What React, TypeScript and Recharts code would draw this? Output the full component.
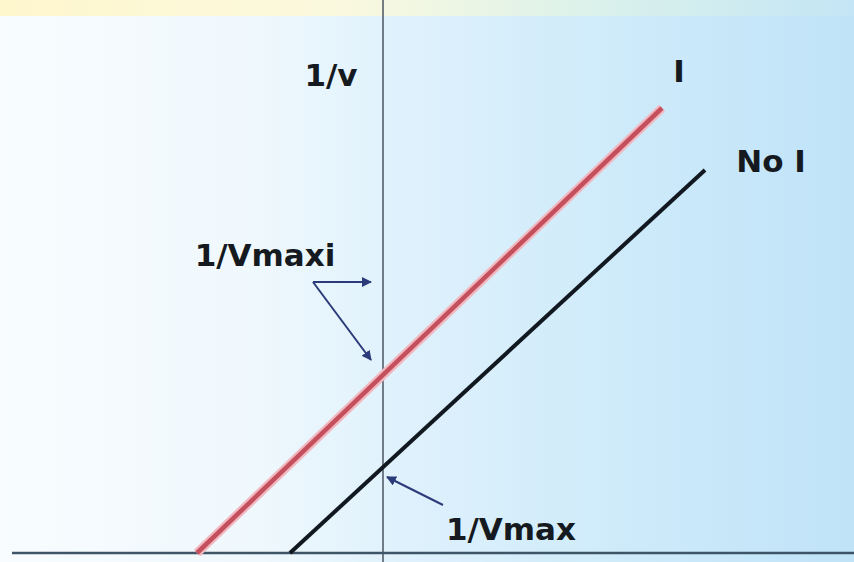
import React from 'react';
import { LineChart, Line, XAxis, YAxis, ReferenceLine, ReferenceDot } from 'recharts';

// x: 1/[S], y: 1/v  (vertical axis at x = 0)
const inhibitedLine = [
  { x: -1.86, y: 0 },
  { x: 2.79, y: 4.45 },
];
const uninhibitedLine = [
  { x: -0.93, y: 0 },
  { x: 3.22, y: 3.83 },
];

// annotation arrows (start -> end)
const arrowToAxis = [
  { x: -0.7, y: 2.71 },
  { x: -0.12, y: 2.71 },
];
const arrowToIntercept = [
  { x: -0.7, y: 2.71 },
  { x: -0.12, y: 1.93 },
];
const arrowToVmax = [
  { x: 0.6, y: 0.48 },
  { x: 0.04, y: 0.76 },
];

const labels = [
  { text: '1/v', x: -0.52, y: 4.78 },
  { text: 'I', x: 2.96, y: 4.82 },
  { text: 'No I', x: 3.88, y: 3.92 },
  { text: '1/Vmaxi', x: -1.18, y: 2.98 },
  { text: '1/Vmax', x: 1.28, y: 0.24 },
];

const xDomain = [-3.83, 4.71];
const yDomain = [-0.09, 5.53];

const font = '"DejaVu Sans", sans-serif';

export default function App() {
  return (
    <div
      style={{
        position: 'absolute',
        left: 0,
        top: 0,
        width: 854,
        height: 562,
        overflow: 'hidden',
        background: 'linear-gradient(to right, #f8fcfe 0%, #eff8fd 30%, #def1fc 48%, #cdeafa 75%, #c0e3f8 100%)',
      }}
    >
      <div
        style={{
          position: 'absolute',
          left: 0,
          top: 0,
          width: 854,
          height: 16,
          background: 'linear-gradient(to right, rgba(255,246,200,0.9) 0%, rgba(255,250,215,0.8) 40%, rgba(225,245,225,0.6) 70%, rgba(200,232,240,0.4) 100%)',
        }}
      />
      <svg width={0} height={0} style={{ position: 'absolute' }}>
        <defs>
          <marker id="arrowHead" viewBox="0 0 10 10" refX="9" refY="5" markerWidth="5" markerHeight="5" orient="auto">
            <path d="M0,0 L10,5 L0,10 z" fill="#2b3a78" />
          </marker>
        </defs>
      </svg>
      <LineChart width={854} height={562} margin={{ top: 0, right: 0, bottom: 0, left: 0 }} style={{ position: 'absolute', left: 0, top: 0 }}>
        <XAxis type="number" dataKey="x" domain={xDomain} hide allowDataOverflow />
        <YAxis type="number" dataKey="y" domain={yDomain} hide allowDataOverflow />
        <ReferenceLine x={0} stroke="#4a5560" strokeWidth={1.5} />
        <ReferenceLine segment={[{ x: -3.71, y: 0 }, { x: 4.71, y: 0 }]} stroke="#3d5566" strokeWidth={2.5} />
        <Line data={inhibitedLine} dataKey="y" stroke="#f2b8c0" strokeWidth={9} dot={false} activeDot={false} isAnimationActive={false} />
        <Line data={inhibitedLine} dataKey="y" stroke="#c4505e" strokeWidth={4.5} dot={false} activeDot={false} isAnimationActive={false} />
        <Line data={uninhibitedLine} dataKey="y" stroke="#111820" strokeWidth={4} dot={false} activeDot={false} isAnimationActive={false} />
        <Line data={arrowToAxis} dataKey="y" stroke="#2b3a78" strokeWidth={2} dot={false} activeDot={false} markerEnd="url(#arrowHead)" isAnimationActive={false} />
        <Line data={arrowToIntercept} dataKey="y" stroke="#2b3a78" strokeWidth={2} dot={false} activeDot={false} markerEnd="url(#arrowHead)" isAnimationActive={false} />
        <Line data={arrowToVmax} dataKey="y" stroke="#2b3a78" strokeWidth={2} dot={false} activeDot={false} markerEnd="url(#arrowHead)" isAnimationActive={false} />
        {labels.map((l) => (
          <ReferenceDot
            key={l.text}
            x={l.x}
            y={l.y}
            r={0}
            fill="none"
            stroke="none"
            label={{ value: l.text, position: 'center', fill: '#151a20', fontSize: 31, fontWeight: 'bold', fontFamily: font }}
          />
        ))}
      </LineChart>
    </div>
  );
}
